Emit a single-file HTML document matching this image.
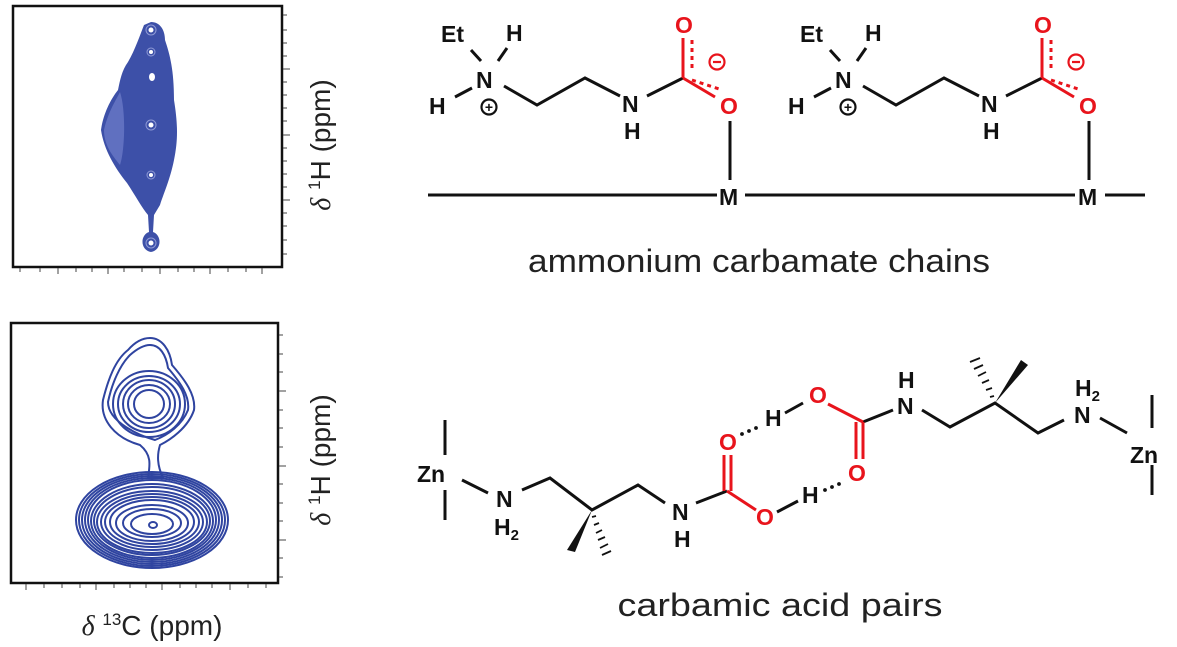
<!DOCTYPE html>
<html><head><meta charset="utf-8"><style>
html,body{margin:0;padding:0;background:#fff;}
svg{display:block;}
text{font-family:"Liberation Sans",sans-serif;}
.b{font-weight:bold;font-size:23px;fill:#111;}
.r{font-weight:bold;font-size:23px;fill:#e8141c;}
</style></head><body>
<svg width="1177" height="647" viewBox="0 0 1177 647" xmlns="http://www.w3.org/2000/svg">
<!-- top plot -->
<g>
<path d="M151,22 C160,22 165,30 165,40 C170,55 174,70 174,100 C178,125 178,140 174,160 C170,180 163,195 160,205 L154,215 L153,232 C162,235 162,250 151,252 C140,250 140,235 149,232 L148,215 C142,208 135,195 127,183 C115,168 104,150 101,130 C103,115 110,100 118,90 C120,80 122,70 128,62 C135,50 140,35 144,25 Z" fill="#3d50a8"/>
<path d="M104,130 C108,112 116,100 120,92 C126,110 125,150 120,165 C112,155 104,145 104,130Z" fill="#6070c0"/>
<g fill="#fff">
<circle cx="151" cy="30" r="2.5"/><circle cx="151" cy="52" r="2"/><ellipse cx="152" cy="77" rx="3" ry="4"/><circle cx="151" cy="125" r="2.5"/><circle cx="151" cy="175" r="2"/><circle cx="151" cy="243" r="2.5"/>
</g>
<g fill="none" stroke="#8f9ad6" stroke-width="1"><circle cx="151" cy="125" r="5"/><circle cx="151" cy="243" r="5"/><circle cx="151" cy="30" r="5"/><circle cx="151" cy="175" r="4"/><circle cx="151" cy="52" r="4"/></g>
<rect x="13" y="6" width="269" height="261" fill="none" stroke="#111" stroke-width="2.5"/>
<g stroke="#444" stroke-width="1">
<line x1="283" y1="15" x2="287" y2="15"/><line x1="283" y1="30" x2="287" y2="30"/><line x1="283" y1="43" x2="287" y2="43"/><line x1="283" y1="56" x2="287" y2="56"/><line x1="283" y1="69" x2="290" y2="69"/><line x1="283" y1="82" x2="287" y2="82"/><line x1="283" y1="95" x2="287" y2="95"/><line x1="283" y1="108" x2="287" y2="108"/><line x1="283" y1="121" x2="287" y2="121"/><line x1="283" y1="135" x2="290" y2="135"/><line x1="283" y1="148" x2="287" y2="148"/><line x1="283" y1="161" x2="287" y2="161"/><line x1="283" y1="174" x2="287" y2="174"/><line x1="283" y1="187" x2="287" y2="187"/><line x1="283" y1="200" x2="290" y2="200"/><line x1="283" y1="213" x2="287" y2="213"/><line x1="283" y1="226" x2="287" y2="226"/><line x1="283" y1="240" x2="287" y2="240"/><line x1="283" y1="254" x2="287" y2="254"/>
</g>
<g stroke="#444" stroke-width="1">
<line x1="20" y1="268" x2="20" y2="272"/><line x1="40" y1="268" x2="40" y2="272"/><line x1="58" y1="268" x2="58" y2="274"/><line x1="76" y1="268" x2="76" y2="272"/><line x1="92" y1="268" x2="92" y2="272"/><line x1="108" y1="268" x2="108" y2="274"/><line x1="124" y1="268" x2="124" y2="272"/><line x1="142" y1="268" x2="142" y2="272"/><line x1="160" y1="268" x2="160" y2="274"/><line x1="178" y1="268" x2="178" y2="272"/><line x1="194" y1="268" x2="194" y2="272"/><line x1="210" y1="268" x2="210" y2="274"/><line x1="228" y1="268" x2="228" y2="272"/><line x1="246" y1="268" x2="246" y2="272"/><line x1="262" y1="268" x2="262" y2="274"/>
</g>
<text transform="translate(330,145) rotate(-90)" text-anchor="middle" font-size="28" fill="#222"><tspan font-style="italic" font-family="Liberation Serif">δ</tspan> <tspan font-size="17" dy="-10">1</tspan><tspan dy="10">H (ppm)</tspan></text>
</g>

<!-- bottom plot -->
<g fill="none" stroke="#2f44a0" stroke-width="2">
<g>
<path d="M150,338 C162,338 170,350 172,365 C185,380 196,395 194,410 C188,428 170,440 160,445 C157,455 157,465 163,478 L148,478 C150,465 152,455 140,445 C115,438 100,420 103,400 C108,380 115,360 128,350 C135,342 142,338 150,338Z"/>
<path d="M150,345 C160,345 166,355 168,368 C180,382 190,396 188,410 C182,425 168,435 155,440 C140,436 108,422 108,402 C112,383 120,365 130,355 C138,348 144,345 150,345Z"/>
<ellipse cx="149" cy="404" rx="36" ry="33"/>
<ellipse cx="149" cy="404" rx="31" ry="28"/>
<ellipse cx="149" cy="404" rx="26" ry="24"/>
<ellipse cx="149" cy="404" rx="21" ry="19"/>
<ellipse cx="149" cy="404" rx="15" ry="14"/>
</g>
<g>
<ellipse cx="152" cy="520" rx="76" ry="48"/>
<ellipse cx="152" cy="520" rx="73" ry="46"/>
<ellipse cx="152" cy="520" rx="70" ry="44"/>
<ellipse cx="152" cy="520" rx="67" ry="42"/>
<ellipse cx="152" cy="520" rx="64" ry="40"/>
<ellipse cx="152" cy="521" rx="61" ry="37"/>
<ellipse cx="152" cy="521" rx="58" ry="34"/>
<ellipse cx="152" cy="522" rx="55" ry="31"/>
<ellipse cx="152" cy="522" rx="51" ry="28"/>
<ellipse cx="152" cy="522" rx="47" ry="25"/>
<ellipse cx="152" cy="522" rx="42" ry="22"/>
<ellipse cx="152" cy="523" rx="36" ry="18"/>
<ellipse cx="152" cy="523" rx="29" ry="14"/>
<ellipse cx="152" cy="524" rx="21" ry="10"/>
<ellipse cx="153" cy="525" rx="4" ry="3"/>
</g>
</g>
<rect x="11" y="323" width="267" height="260" fill="none" stroke="#111" stroke-width="2.5"/>
<g stroke="#444" stroke-width="1">
<line x1="279" y1="335" x2="283" y2="335"/><line x1="279" y1="354" x2="283" y2="354"/><line x1="279" y1="372" x2="283" y2="372"/><line x1="279" y1="391" x2="286" y2="391"/><line x1="279" y1="410" x2="283" y2="410"/><line x1="279" y1="428" x2="283" y2="428"/><line x1="279" y1="447" x2="283" y2="447"/><line x1="279" y1="466" x2="286" y2="466"/><line x1="279" y1="484" x2="283" y2="484"/><line x1="279" y1="503" x2="283" y2="503"/><line x1="279" y1="521" x2="283" y2="521"/><line x1="279" y1="540" x2="286" y2="540"/><line x1="279" y1="558" x2="283" y2="558"/><line x1="279" y1="577" x2="283" y2="577"/>
</g>
<g stroke="#444" stroke-width="1">
<line x1="26" y1="584" x2="26" y2="590"/><line x1="44" y1="584" x2="44" y2="588"/><line x1="62" y1="584" x2="62" y2="588"/><line x1="80" y1="584" x2="80" y2="588"/><line x1="96" y1="584" x2="96" y2="590"/><line x1="114" y1="584" x2="114" y2="588"/><line x1="130" y1="584" x2="130" y2="588"/><line x1="146" y1="584" x2="146" y2="588"/><line x1="162" y1="584" x2="162" y2="590"/><line x1="180" y1="584" x2="180" y2="588"/><line x1="196" y1="584" x2="196" y2="588"/><line x1="212" y1="584" x2="212" y2="588"/><line x1="230" y1="584" x2="230" y2="590"/><line x1="248" y1="584" x2="248" y2="588"/><line x1="266" y1="584" x2="266" y2="588"/>
</g>
<text transform="translate(330,460) rotate(-90)" text-anchor="middle" font-size="28" fill="#222"><tspan font-style="italic" font-family="Liberation Serif">δ</tspan> <tspan font-size="17" dy="-10">1</tspan><tspan dy="10">H (ppm)</tspan></text>
<text x="152" y="635" text-anchor="middle" font-size="28" fill="#222"><tspan font-style="italic" font-family="Liberation Serif">δ</tspan> <tspan font-size="17" dy="-10">13</tspan><tspan dy="10">C (ppm)</tspan></text>

<!-- top chemistry -->
<line x1="428" y1="195" x2="717" y2="195" stroke="#111" stroke-width="3"/>
<line x1="745" y1="195" x2="1075" y2="195" stroke="#111" stroke-width="3"/>
<line x1="1105" y1="195" x2="1145" y2="195" stroke="#111" stroke-width="3"/>
<g id="mol">
<g stroke="#111" stroke-width="3" fill="none">
<line x1="471" y1="50" x2="481" y2="61"/><line x1="507" y1="48" x2="498" y2="61"/>
<line x1="455" y1="97" x2="472" y2="88"/>
<polyline points="504,86 537,105 585,78 620,96"/>
<line x1="647" y1="96" x2="683" y2="78"/>
</g>
<g stroke="#e8141c" stroke-width="3" fill="none">
<line x1="683" y1="78" x2="683" y2="38"/>
<line x1="692" y1="40" x2="692" y2="72" stroke-dasharray="4,4"/>
<line x1="683" y1="78" x2="715" y2="97"/>
<line x1="692" y1="80" x2="722" y2="90" stroke-dasharray="4,4"/>
</g>
<line x1="730" y1="121" x2="730" y2="180" stroke="#111" stroke-width="3"/>
<text class="b" x="441" y="42">Et</text>
<text class="b" x="506" y="41">H</text>
<text class="b" x="476" y="88">N</text>
<text class="b" x="429" y="114">H</text>
<text class="b" x="622" y="112">N</text>
<text class="b" x="624" y="139">H</text>
<circle cx="489" cy="107" r="7.5" fill="none" stroke="#111" stroke-width="2.2"/>
<text x="489" y="112" text-anchor="middle" font-size="14" font-weight="bold" fill="#111">+</text>
<text class="r" x="675" y="33">O</text>
<text class="r" x="720" y="114">O</text>
<circle cx="717" cy="62" r="7.5" fill="none" stroke="#e8141c" stroke-width="2.2"/>
<line x1="713" y1="62" x2="721" y2="62" stroke="#e8141c" stroke-width="2.2"/>
<text class="b" x="719" y="205">M</text>
</g>
<use href="#mol" x="359" y="0"/>
<text x="759" y="272" text-anchor="middle" font-size="32" textLength="462" lengthAdjust="spacingAndGlyphs" fill="#222">ammonium carbamate chains</text>

<!-- bottom chemistry -->
<g stroke="#111" stroke-width="3" fill="none">
<line x1="445" y1="420" x2="445" y2="455"/><line x1="445" y1="490" x2="445" y2="520"/>
<line x1="462" y1="480" x2="488" y2="493"/>
<polyline points="522,490 550,478 592,510 638,485 665,503"/>
<line x1="696" y1="503" x2="727" y2="491"/>
<line x1="1152" y1="395" x2="1152" y2="428"/><line x1="1152" y1="465" x2="1152" y2="495"/>
<line x1="1100" y1="418" x2="1127" y2="433"/>
<polyline points="1064,420 1038,433 995,403 950,427 922,410"/>
<line x1="893" y1="410" x2="863" y2="422"/>
<line x1="785" y1="413" x2="803" y2="403"/>
<line x1="777" y1="512" x2="798" y2="501"/>
</g>
<polygon points="592,510 567,550 575,552" fill="#111"/>
<g stroke="#111" stroke-width="1.8">
<line x1="596" y1="516" x2="592" y2="517"/><line x1="599" y1="523" x2="594" y2="525"/><line x1="602" y1="530" x2="596" y2="533"/><line x1="605" y1="537" x2="598" y2="540"/><line x1="608" y1="544" x2="600" y2="548"/><line x1="611" y1="551" x2="602" y2="555"/>
</g>
<polygon points="995,403 1021,360 1028,365" fill="#111"/>
<g stroke="#111" stroke-width="1.8">
<line x1="990" y1="397" x2="994" y2="396"/><line x1="986" y1="390" x2="992" y2="388"/><line x1="982" y1="383" x2="989" y2="380"/><line x1="978" y1="376" x2="986" y2="372"/><line x1="974" y1="369" x2="983" y2="365"/><line x1="970" y1="362" x2="980" y2="358"/>
</g>
<g stroke="#e8141c" stroke-width="3" fill="none">
<line x1="724" y1="491" x2="724" y2="455"/><line x1="731" y1="491" x2="731" y2="455"/>
<line x1="727" y1="491" x2="756" y2="510"/>
<line x1="856" y1="422" x2="856" y2="459"/><line x1="863" y1="422" x2="863" y2="459"/>
<line x1="863" y1="422" x2="828" y2="404"/>
</g>
<g fill="#111"><circle cx="742" cy="434" r="1.9"/><circle cx="749" cy="431" r="1.9"/><circle cx="756" cy="428" r="1.9"/>
<circle cx="825" cy="490" r="1.9"/><circle cx="832" cy="487" r="1.9"/><circle cx="839" cy="484" r="1.9"/></g>
<text class="b" x="417" y="482">Zn</text>
<text class="b" x="496" y="507">N</text>
<text class="b" x="494" y="535">H<tspan font-size="15" dy="5">2</tspan></text>
<text class="b" x="672" y="520">N</text>
<text class="b" x="674" y="547">H</text>
<text class="r" x="719" y="450">O</text>
<text class="b" x="765" y="426">H</text>
<text class="r" x="809" y="403">O</text>
<text class="r" x="756" y="525">O</text>
<text class="b" x="802" y="503">H</text>
<text class="r" x="848" y="481">O</text>
<text class="b" x="897" y="414">N</text>
<text class="b" x="898" y="388">H</text>
<text class="b" x="1074" y="423">N</text>
<text class="b" x="1075" y="396">H<tspan font-size="15" dy="5">2</tspan></text>
<text class="b" x="1130" y="463">Zn</text>
<text x="780" y="616" text-anchor="middle" font-size="32" textLength="325" lengthAdjust="spacingAndGlyphs" fill="#222">carbamic acid pairs</text>
</svg>
</body></html>
